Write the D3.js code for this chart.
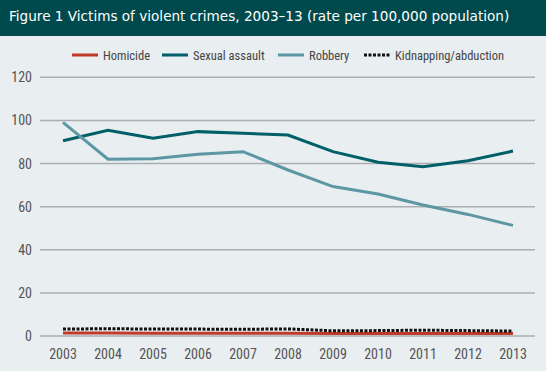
<!DOCTYPE html>
<html>
<head>
<meta charset="utf-8">
<script src="https://cdn.jsdelivr.net/npm/d3@7"></script>
<style>
  body { margin: 0; background: #e9eef1; }
  svg { display: block; }
</style>
</head>
<body>
<div class="chart"></div>
<script>
var years = [2003, 2004, 2005, 2006, 2007, 2008, 2009, 2010, 2011, 2012, 2013];
var homicide = [1.4, 1.4, 1.3, 1.3, 1.3, 1.3, 1.2, 1.2, 1.2, 1.2, 1.2];
var sexualAssault = [90.6, 95.4, 91.7, 94.8, 94.0, 93.2, 85.5, 80.6, 78.5, 81.3, 85.8];
var robbery = [99.1, 82.0, 82.2, 84.3, 85.5, 77.0, 69.3, 65.9, 60.8, 56.4, 51.3];
var kidnapping = [3.2, 3.4, 3.2, 3.2, 3.1, 3.3, 2.4, 2.5, 2.7, 2.5, 2.3];
var yTicks = [0, 20, 40, 60, 80, 100, 120];

var series = [
  { name: "Homicide", values: homicide, color: "#c0392b", dash: null },
  { name: "Sexual assault", values: sexualAssault, color: "#005f68", dash: null },
  { name: "Robbery", values: robbery, color: "#5e97a4", dash: null },
  { name: "Kidnapping/abduction", values: kidnapping, color: "#111", dash: "3,1.5" }
];

var w = 546, h = 371;
var svg = d3.select(".chart").append("svg")
  .attr("width", w)
  .attr("height", h);

svg.append("rect").attr("width", w).attr("height", h).attr("fill", "#e9eef1");

// title bar
svg.append("rect").attr("x", 0).attr("y", 0).attr("width", w).attr("height", 36)
  .attr("fill", "#004a4e");
svg.append("text")
  .attr("x", 9).attr("y", 21)
  .attr("fill", "#fff")
  .style("font-family", "'DejaVu Sans', Verdana, sans-serif")
  .style("font-size", "13.6px")
  .text("Figure 1 Victims of violent crimes, 2003\u201313 (rate per 100,000 population)");

var x = d3.scaleLinear().domain([2003, 2013]).range([63, 513]);
var y = d3.scaleLinear().domain([0, 120]).range([336, 77.3]);

var font = "'Liberation Sans Narrow', 'Roboto Condensed', 'Arial Narrow', sans-serif";

// grid
svg.selectAll(".grid")
  .data(yTicks)
  .enter()
  .append("line")
  .attr("x1", 40).attr("x2", 535)
  .attr("y1", function(d) { return y(d); })
  .attr("y2", function(d) { return y(d); })
  .attr("stroke", "#aaaeb0")
  .attr("stroke-width", 1.5);

svg.selectAll(".ylab")
  .data(yTicks)
  .enter()
  .append("text")
  .attr("x", 32)
  .attr("y", function(d) { return y(d) + 5; })
  .attr("text-anchor", "end")
  .attr("fill", "#555")
  .style("font-family", font)
  .style("font-size", "14px")
  .text(function(d) { return d; });

svg.selectAll(".xlab")
  .data(years)
  .enter()
  .append("text")
  .attr("x", function(d) { return x(d); })
  .attr("y", 359)
  .attr("text-anchor", "middle")
  .attr("fill", "#555")
  .style("font-family", font)
  .style("font-size", "14px")
  .text(function(d) { return d; });

var line = d3.line()
  .x(function(d, i) { return x(years[i]); })
  .y(function(d) { return y(d); });

series.forEach(function(s) {
  svg.append("path")
    .attr("d", line(s.values))
    .attr("fill", "none")
    .attr("stroke", s.color)
    .attr("stroke-width", 3)
    .attr("stroke-dasharray", s.dash);
});

// legend
var legendX = [72, 162, 278, 364];
var legend = svg.selectAll(".legend")
  .data(series)
  .enter()
  .append("g")
  .attr("transform", function(d, i) { return "translate(" + legendX[i] + ",55)"; });
legend.append("line")
  .attr("x1", 0).attr("x2", 26)
  .attr("stroke", function(d) { return d.color; })
  .attr("stroke-width", 3)
  .attr("stroke-dasharray", function(d) { return d.dash; });
legend.append("text")
  .attr("x", 31).attr("y", 4.5)
  .attr("fill", "#444")
  .style("font-family", font)
  .style("font-size", "12.5px")
  .text(function(d) { return d.name; });
</script>
</body>
</html>
